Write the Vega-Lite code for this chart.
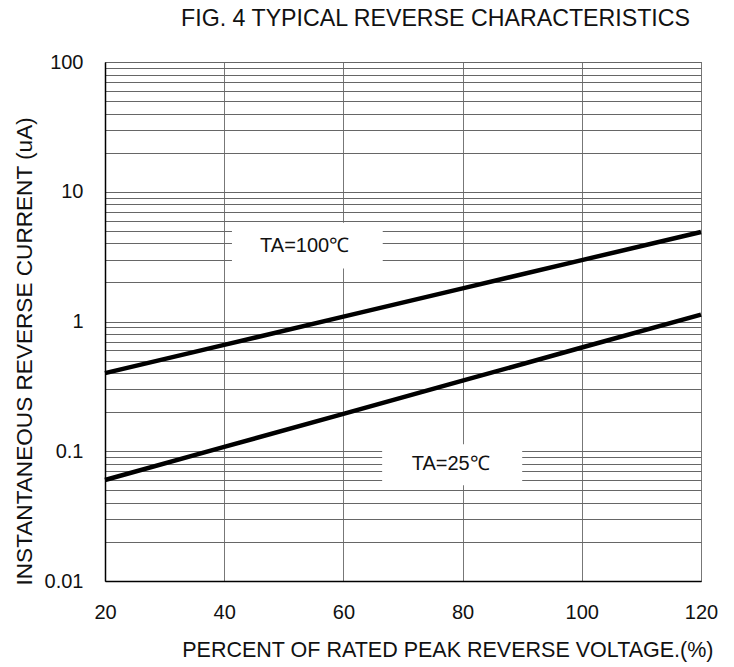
{
  "$schema": "https://vega.github.io/schema/vega-lite/v6.json",
  "autosize": "none",
  "width": 596,
  "height": 519,
  "padding": {"left": 105, "top": 62, "right": 33, "bottom": 86},
  "background": "white",
  "config": {
    "font": "Liberation Sans",
    "view": {"stroke": "#555", "strokeWidth": 1}
  },
  "title": {
    "text": "FIG. 4 TYPICAL REVERSE CHARACTERISTICS",
    "anchor": "end",
    "frame": "group",
    "dx": -11,
    "offset": 21,
    "fontSize": 23.2,
    "font": "Liberation Sans",
    "fontWeight": "normal",
    "color": "#111"
  },
  "datasets": {
    "curves": [
      {"series": "TA=100", "pct": 20, "ir": 0.4},
      {"series": "TA=100", "pct": 40, "ir": 0.66},
      {"series": "TA=100", "pct": 60, "ir": 1.09},
      {"series": "TA=100", "pct": 80, "ir": 1.8},
      {"series": "TA=100", "pct": 100, "ir": 2.97},
      {"series": "TA=100", "pct": 120, "ir": 4.9},
      {"series": "TA=25", "pct": 20, "ir": 0.06},
      {"series": "TA=25", "pct": 40, "ir": 0.108},
      {"series": "TA=25", "pct": 60, "ir": 0.194},
      {"series": "TA=25", "pct": 80, "ir": 0.35},
      {"series": "TA=25", "pct": 100, "ir": 0.63},
      {"series": "TA=25", "pct": 120, "ir": 1.13}
    ],
    "labels": [
      {"text": "TA=100℃", "x": 53.5, "y": 3.84, "x1": 41.3, "x2": 66.6, "y1": 2.56, "y2": 5.78},
      {"text": "TA=25℃", "x": 78, "y": 0.0794, "x1": 66.5, "x2": 90.0, "y1": 0.0547, "y2": 0.113}
    ]
  },
  "layer": [
    {
      "data": {"name": "curves"},
      "mark": {"type": "line", "color": "black", "strokeWidth": 4.5},
      "encoding": {
        "x": {
          "field": "pct", "type": "quantitative",
          "scale": {"domain": [20, 120], "nice": false},
          "axis": {
            "values": [20, 40, 60, 80, 100, 120],
            "grid": true, "gridColor": "#777", "gridWidth": 1,
            "ticks": false, "labelPadding": 21, "labelFontSize": 20, "labelColor": "#111", "labelFlush": false,
            "labelFont": "Liberation Sans",
            "domainColor": "black", "domainWidth": 1.5,
            "title": "PERCENT OF RATED PEAK REVERSE VOLTAGE.(%)",
            "titleFont": "Liberation Sans",
            "titleFontSize": 21.5, "titleFontWeight": "normal", "titleColor": "#111",
            "titleAlign": "right", "titleAnchor": "end", "titleX": 608, "titleY": 69, "titleBaseline": "middle"
          }
        },
        "y": {
          "field": "ir", "type": "quantitative",
          "scale": {"type": "log", "domain": [0.01, 100], "nice": false},
          "axis": {
            "values": [0.01,0.02,0.03,0.04,0.05,0.06,0.07,0.08,0.09,0.1,0.2,0.3,0.4,0.5,0.6,0.7,0.8,0.9,1,2,3,4,5,6,7,8,9,10,20,30,40,50,60,70,80,90,100],
            "labelExpr": "indexof([0.01,0.1,1,10,100], datum.value) >= 0 ? format(datum.value, '~g') : ''",
            "grid": true, "gridColor": "#666", "gridWidth": 1,
            "ticks": false, "labelPadding": 22, "labelFontSize": 20, "labelColor": "#111", "labelFlush": false,
            "labelFont": "Liberation Sans",
            "domainColor": "black", "domainWidth": 1.5,
            "title": "INSTANTANEOUS REVERSE CURRENT (uA)",
            "titleFont": "Liberation Sans",
            "titleFontSize": 22.6, "titleFontWeight": "normal", "titleColor": "#111",
            "titleAngle": 270, "titleAlign": "left", "titleBaseline": "middle",
            "titleX": -81, "titleY": 523
          }
        },
        "detail": {"field": "series"}
      }
    },
    {
      "data": {"name": "labels"},
      "mark": {"type": "rect", "color": "white"},
      "encoding": {
        "x": {"field": "x1", "type": "quantitative"},
        "x2": {"field": "x2"},
        "y": {"field": "y1", "type": "quantitative"},
        "y2": {"field": "y2"}
      }
    },
    {
      "data": {"name": "labels"},
      "mark": {"type": "text", "fontSize": 20, "font": "Liberation Sans", "color": "#111", "align": "center", "baseline": "middle"},
      "encoding": {
        "x": {"field": "x", "type": "quantitative"},
        "y": {"field": "y", "type": "quantitative"},
        "text": {"field": "text"}
      }
    }
  ]
}
